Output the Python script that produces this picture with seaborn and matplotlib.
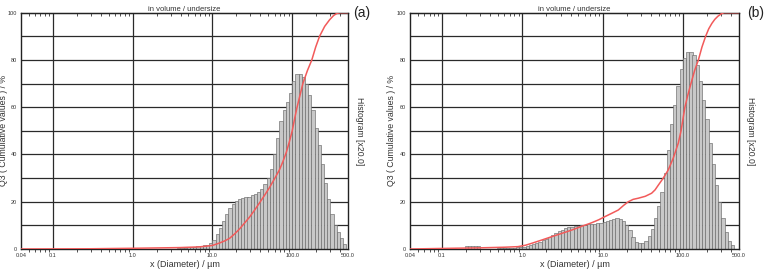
import numpy as np
import pandas as pd
import matplotlib
matplotlib.use("Agg")
import matplotlib.pyplot as plt
import matplotlib.ticker as mticker
import seaborn as sns

# ---------------- data ----------------
# panel (a) histogram: class mid diameters (um) and heights (% on left scale)
a_diam = [3.80, 4.17, 4.57, 5.01, 5.50, 6.03, 6.61, 7.24, 7.94, 8.71, 9.55,
          10.5, 11.5, 12.6, 13.8, 15.1, 16.6, 18.2, 20.0, 21.9, 24.0, 26.3,
          28.8, 31.6, 34.7, 38.0, 41.7, 45.7, 50.1, 55.0, 60.3, 66.1, 72.4,
          79.4, 87.1, 95.5, 105, 115, 126, 138, 151, 166, 182, 200, 219, 240,
          263, 288, 316, 347, 380, 417, 457]
a_hist = [0.4, 0.5, 0.6, 0.7, 0.8, 1.0, 1.2, 1.4, 1.6, 1.9, 2.4,
          4.0, 6.5, 9.0, 12.0, 15.0, 17.5, 19.0, 20.5, 21.2, 21.5, 21.8,
          22.2, 22.8, 23.2, 24.0, 25.5, 27.5, 30.0, 34.0, 40.0, 47.0, 54.0,
          59.0, 62.0, 66.0, 71.0, 74.0, 74.0, 73.0, 70.0, 65.0, 59.0, 51.0, 44.0, 36.0,
          28.0, 21.0, 15.0, 10.0, 7.0, 4.5, 2.0]
# panel (a) cumulative Q3
a_cum_d = [0.04, 0.3, 1.0, 2.0, 3.9, 6.9, 10.0, 12.2, 14.2, 16.4, 19.0, 21.9,
           25.3, 29.2, 33.7, 38.9, 45.0, 51.9, 60.0, 69.2, 76.5, 84.5, 92.0,
           100, 107, 115, 125, 136, 155, 176, 197, 220, 255, 294, 330, 362,
           400, 500]
a_cum_q = [0, 0.1, 0.3, 0.45, 0.6, 0.9, 1.5, 2.5, 3.4, 4.5, 6.4, 8.5,
           11.0, 13.5, 16.4, 19.5, 22.7, 26.0, 29.7, 33.5, 37.0, 41.0, 45.3,
           50.0, 55.0, 60.0, 65.0, 70.0, 75.5, 80.0, 85.5, 90.0, 94.2, 97.0, 98.8, 99.7,
           100, 100]

# panel (b) histogram
b_diam = [0.200, 0.219, 0.240, 0.263, 0.288, 0.316, 0.347, 0.380, 0.417, 0.457,
          0.501, 0.550, 0.603, 0.661, 0.724, 0.794, 0.871, 0.955, 1.05, 1.15,
          1.26, 1.38, 1.51, 1.66, 1.82, 2.00, 2.19, 2.40, 2.63, 2.88, 3.16,
          3.47, 3.80, 4.17, 4.57, 5.01, 5.50, 6.03, 6.61, 7.24, 7.94, 8.71,
          9.55, 10.5, 11.5, 12.6, 13.8, 15.1, 16.6, 18.2, 20.0, 21.9, 24.0,
          26.3, 28.8, 31.6, 34.7, 38.0, 41.7, 45.7, 50.1, 55.0, 60.3, 66.1,
          72.4, 79.4, 87.1, 95.5, 105, 115, 126, 138, 151, 166, 182, 200,
          219, 240, 263, 288, 316, 347, 380, 417]
b_hist = [1.4, 1.4, 1.4, 1.4, 1.4, 0.2, 0.2, 0.2, 0.2, 0.2,
          0.3, 0.3, 0.3, 0.4, 0.5, 0.6, 0.7, 0.8, 1.0, 1.3,
          1.6, 2.0, 2.5, 3.0, 3.6, 4.2, 5.0, 5.8, 6.7, 7.5, 8.2,
          8.7, 9.1, 9.4, 9.7, 9.9, 10.1, 10.2, 10.4, 10.6, 10.7, 10.9,
          11.2, 11.5, 11.9, 12.3, 12.7, 13.0, 12.9, 12.0, 10.2, 8.0, 5.0,
          3.0, 2.4, 2.6, 3.5, 5.5, 8.5, 13.0, 18.0, 24.0, 32.0, 42.0,
          53.0, 61.0, 69.0, 76.0, 81.0, 83.5, 83.5, 82.0, 78.0, 71.0, 63.0, 55.0,
          45.0, 36.0, 27.0, 20.0, 13.0, 7.0, 3.5, 1.5]
b_cum_d = [0.04, 0.132, 0.306, 0.6, 0.884, 1.1, 1.31, 1.75, 2.32, 3.1, 4.12,
           5.5, 7.31, 9.0, 10.7, 13.0, 15.7, 18.2, 20.9, 24.0, 27.9, 34.0,
           40.8, 45.0, 49.4, 57.0, 65.8, 76.0, 87.7, 94.9, 106, 115, 126, 140,
           156, 173, 192, 210, 230, 250, 273, 300, 325, 500]
b_cum_q = [0, 0.3, 0.5, 0.75, 1.0, 1.6, 2.4, 3.8, 5.2, 6.6, 8.0,
           9.6, 11.1, 12.4, 13.7, 15.1, 16.5, 18.4, 20.0, 21.0, 21.5, 22.3,
           23.6, 25.0, 27.0, 30.0, 33.5, 38.5, 44.8, 50.0, 60.0, 65.0, 70.0, 75.5,
           80.0, 85.5, 90.0, 93.2, 95.5, 97.2, 98.5, 99.5, 100, 100]

x_tick_vals = [0.04, 0.1, 1.0, 10.0, 100.0, 500.0]
x_tick_labels = ["0.04", "0.1", "1.0", "10.0", "100.0", "500.0"]
y_tick_vals = [0, 10, 20, 30, 40, 50, 60, 70, 80, 90, 100]
y_tick_labels = ["0", "", "20", "", "40", "", "60", "", "80", "", "100"]
panel_tags = ["(a)", "(b)"]

# ---------------- style ----------------
sns.set_style("white")
plt.rcParams['font.family'] = ['Liberation Sans', 'DejaVu Sans']

W, H = 771, 271
fig = plt.figure(figsize=(W / 100, H / 100), dpi=100)

panels = [
    dict(diam=a_diam, hist=a_hist, cd=a_cum_d, cq=a_cum_q, l=21, r=348,
         tag=panel_tags[0], ylx=8, tagx=353),
    dict(diam=b_diam, hist=b_hist, cd=b_cum_d, cq=b_cum_q, l=410, r=739,
         tag=panel_tags[1], ylx=396, tagx=747),
]
top_px, bot_px = 12.7, 249
half = 10 ** 0.02  # half class width factor (log step 0.04)

for p in panels:
    wpx = p['r'] - p['l']
    ax = fig.add_axes([p['l'] / W, (H - bot_px) / H, wpx / W, (bot_px - top_px) / H])
    ax.set_xscale('log')
    ax.set_xlim(0.04, 500)
    ax.set_ylim(0, 100)

    # grid
    for yv in range(10, 100, 10):
        ax.axhline(yv, color='#2a2a2a', lw=0.9, zorder=1)
    for xv in [0.1, 1, 10, 100]:
        ax.axvline(xv, color='#2a2a2a', lw=0.9, zorder=1)

    # histogram bars
    d = np.array(p['diam'])
    left = d / half
    width = d * half - left
    ax.bar(left, p['hist'], width=width, align='edge', color='#c8c8c8',
           edgecolor='#6a6a6a', linewidth=0.45, zorder=2)

    # cumulative curve
    df = pd.DataFrame({'d': p['cd'], 'q': p['cq']})
    sns.lineplot(data=df, x='d', y='q', ax=ax, color='#f25a5a', lw=1.1, zorder=4)

    ax.set_xticks(x_tick_vals)
    ax.set_xticklabels(x_tick_labels)
    ax.xaxis.set_minor_locator(mticker.LogLocator(base=10, subs=np.arange(2, 10)))
    ax.xaxis.set_minor_formatter(mticker.NullFormatter())
    ax.tick_params(axis='x', which='major', length=0, labelsize=4, pad=3, colors='#333333')
    ax.tick_params(axis='x', which='minor', length=2, width=0.6, direction='out',
                   top=False, bottom=True, color='#333333')
    # top axis: inward minor ticks
    sec = ax.secondary_xaxis('top')
    sec.set_xticks([])
    sec.xaxis.set_minor_locator(mticker.LogLocator(base=10, subs=np.arange(2, 10)))
    sec.xaxis.set_minor_formatter(mticker.NullFormatter())
    sec.tick_params(axis='x', which='minor', length=2.2, width=0.6, direction='in', color='#333333')
    sec.spines['top'].set_color('#222222')

    ax.set_yticks(y_tick_vals)
    ax.set_yticklabels(y_tick_labels)
    ax.tick_params(axis='y', length=2, width=0.8, labelsize=4, pad=1, colors='#333333')
    for s in ax.spines.values():
        s.set_color('#222222')
        s.set_linewidth(1.0)
    ax.set_xlabel("x (Diameter) / µm", fontsize=6.5, labelpad=1, color='#333333')
    ax.set_ylabel("Q3 ( Cumulative values ) / %", fontsize=6.3, color='#333333')
    ax.yaxis.set_label_coords((p['ylx'] - p['l']) / wpx, 0.5)
    ax.set_title("in volume / undersize", fontsize=5.5, pad=0.5, color='#333333')
    ax.text(1.02, 0.5, "Histogram [x20.0]", transform=ax.transAxes, rotation=-90,
            ha='left', va='center', fontsize=6.2, color='#333333')
    ax.text((p['tagx'] - p['l']) / wpx, 1.0, p['tag'], transform=ax.transAxes,
            ha='left', va='center', fontsize=10, color='#222222')

fig.savefig("out.png", dpi=100)
